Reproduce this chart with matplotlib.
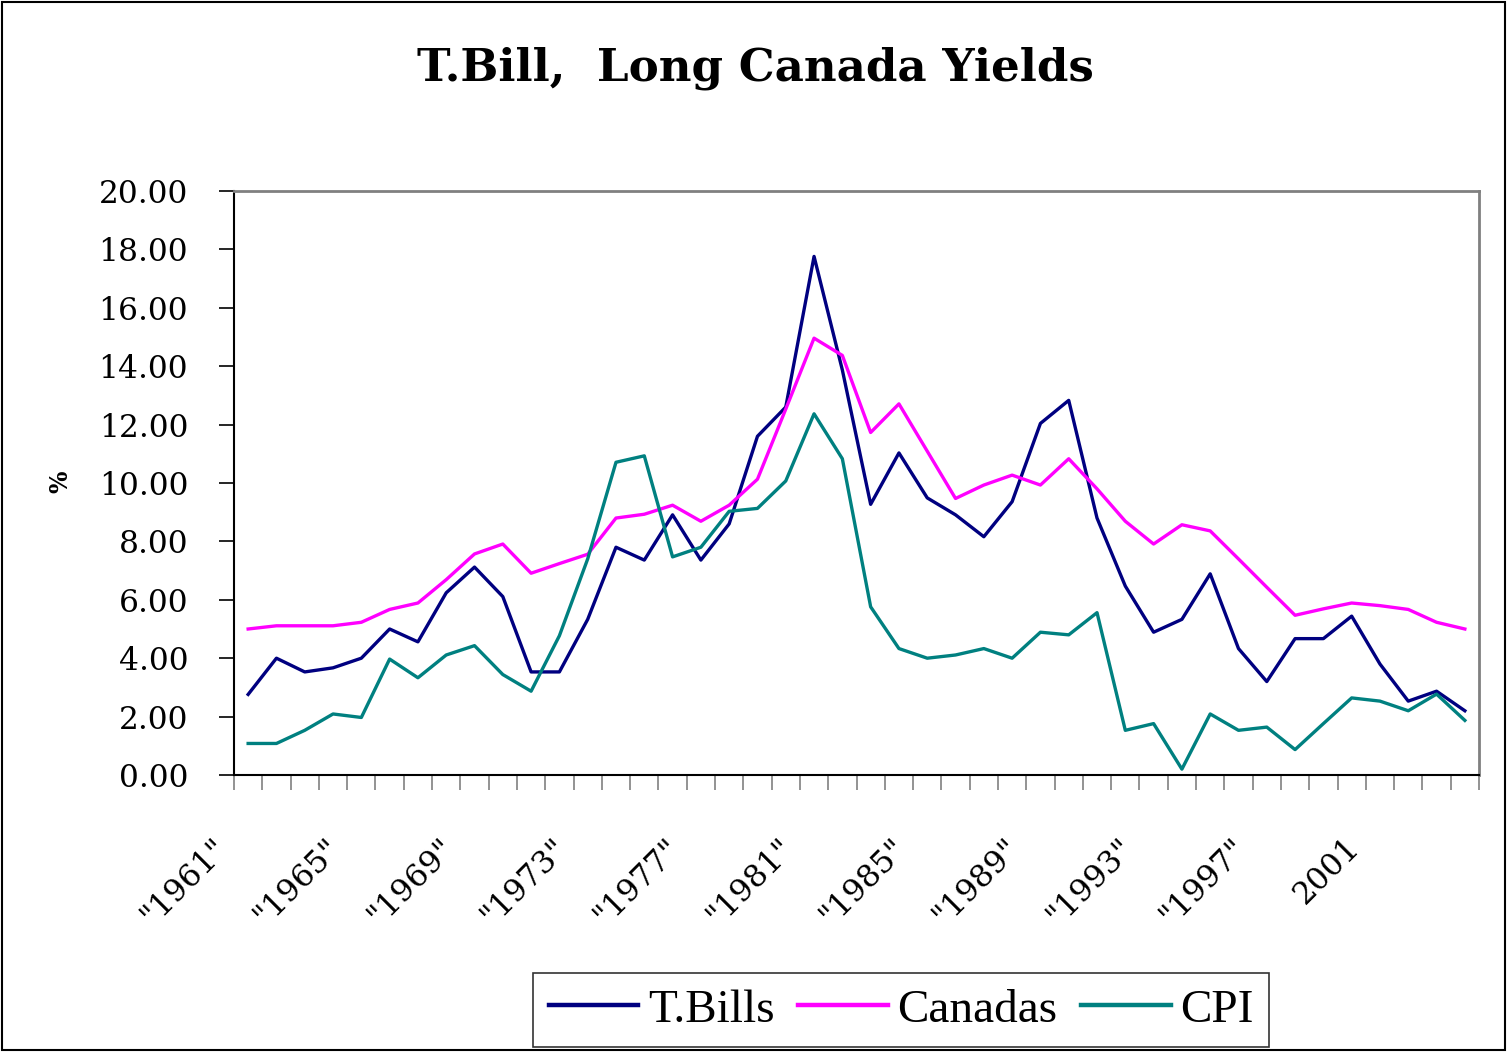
import numpy as np
import matplotlib
matplotlib.use("Agg")
import matplotlib.pyplot as plt
import matplotlib.transforms as mtransforms
from matplotlib.patches import Rectangle

years = list(range(1961, 2005))
tbills = [2.76, 4.00, 3.53, 3.67, 4.00, 5.00, 4.56, 6.24, 7.12, 6.11,
          3.53, 3.53, 5.33, 7.80, 7.36, 8.91, 7.36, 8.60, 11.60, 12.60,
          17.76, 13.87, 9.27, 11.03, 9.49, 8.91, 8.16, 9.36, 12.04, 12.83,
          8.80, 6.47, 4.89, 5.33, 6.89, 4.33, 3.20, 4.67, 4.67, 5.44,
          3.80, 2.53, 2.87, 2.20]
canadas = [5.00, 5.11, 5.11, 5.11, 5.23, 5.67, 5.89, 6.69, 7.57, 7.91,
           6.91, 7.24, 7.56, 8.80, 8.93, 9.24, 8.69, 9.24, 10.13, 12.53,
           14.96, 14.37, 11.73, 12.71, 11.09, 9.47, 9.93, 10.27, 9.93, 10.83,
           9.80, 8.69, 7.91, 8.57, 8.36, 7.40, 6.43, 5.47, 5.69, 5.89,
           5.80, 5.67, 5.23, 5.00]
cpi = [1.08, 1.08, 1.53, 2.09, 1.97, 3.97, 3.33, 4.11, 4.43, 3.44,
       2.87, 4.77, 7.40, 10.71, 10.93, 7.47, 7.80, 9.03, 9.13, 10.07,
       12.37, 10.83, 5.76, 4.33, 4.00, 4.11, 4.33, 4.00, 4.89, 4.80,
       5.56, 1.53, 1.76, 0.20, 2.09, 1.53, 1.64, 0.87, 1.76, 2.64,
       2.53, 2.20, 2.77, 1.87]
label_years = [1961, 1965, 1969, 1973, 1977, 1981, 1985, 1989, 1993, 1997, 2001]
label_text = ['"1961"', '"1965"', '"1969"', '"1973"', '"1977"', '"1981"',
              '"1985"', '"1989"', '"1993"', '"1997"', '2001']

plt.rcParams['font.family'] = ['DejaVu Serif']

W, H = 1507, 1052
fig = plt.figure(figsize=(W / 100, H / 100), dpi=100)
ax = fig.add_axes([234 / W, 1 - 775 / H, (1479 - 234) / W, (775 - 191) / H])

x = np.arange(len(years))
ax.plot(x, tbills, color='#000080', lw=2.4, label='T.Bills')
ax.plot(x, canadas, color='#FF00FF', lw=2.4, label='Canadas')
ax.plot(x, cpi, color='#008080', lw=2.4, label='CPI')

ax.set_xlim(-0.5, len(years) - 0.5)
ax.set_ylim(0, 20)
ax.set_yticks(np.arange(0, 20.01, 2))
ax.set_yticklabels(['%.2f' % v for v in np.arange(0, 20.01, 2)], fontsize=22.5)
ax.tick_params(axis='y', direction='out', length=11, width=1.2, color='black', pad=22)

# category boundaries as tick marks, year labels drawn separately
ax.set_xticks(np.arange(-0.5, len(years), 1.0))
ax.set_xticklabels([])
ax.tick_params(axis='x', direction='out', length=11, width=1.2, color='#808080')

trans = mtransforms.blended_transform_factory(ax.transData, ax.transAxes)
for yr, txt in zip(label_years, label_text):
    off = mtransforms.ScaledTranslation(-25 / 100, -68 / 100, fig.dpi_scale_trans)
    ax.text(years.index(yr), 0, txt, transform=trans + off, rotation=45,
            rotation_mode='anchor', ha='right', va='center', fontsize=22.5)

for s in ['left', 'bottom']:
    ax.spines[s].set_color('black')
    ax.spines[s].set_linewidth(1.5)
for s in ['top', 'right']:
    ax.spines[s].set_color('#808080')
    ax.spines[s].set_linewidth(2)

fig.text(755 / W, 1 - 68 / H, 'T.Bill,  Long Canada Yields', ha='center', va='center',
         fontsize=32.5, fontweight='bold')
fig.text(60 / W, 1 - 482 / H, '%', rotation=90, ha='center', va='center', fontsize=17,
         fontweight='bold')

leg = fig.legend(loc='center', bbox_to_anchor=(901 / W, 1 - 1010 / H), ncol=3,
                 prop={'family': 'Liberation Serif', 'size': 34}, frameon=True,
                 fancybox=False, handlelength=1.9, columnspacing=0.5,
                 handletextpad=0.2, borderpad=0.32)
leg.get_frame().set_edgecolor('black')
leg.get_frame().set_linewidth(1.2)
for line in leg.get_lines():
    line.set_linewidth(3.2)

fig.patches.append(Rectangle((2 / W, 2 / H), 1 - 4 / W, 1 - 4 / H, transform=fig.transFigure,
                             fill=False, edgecolor='black', lw=1.5))

fig.savefig('out.png', dpi=100)
